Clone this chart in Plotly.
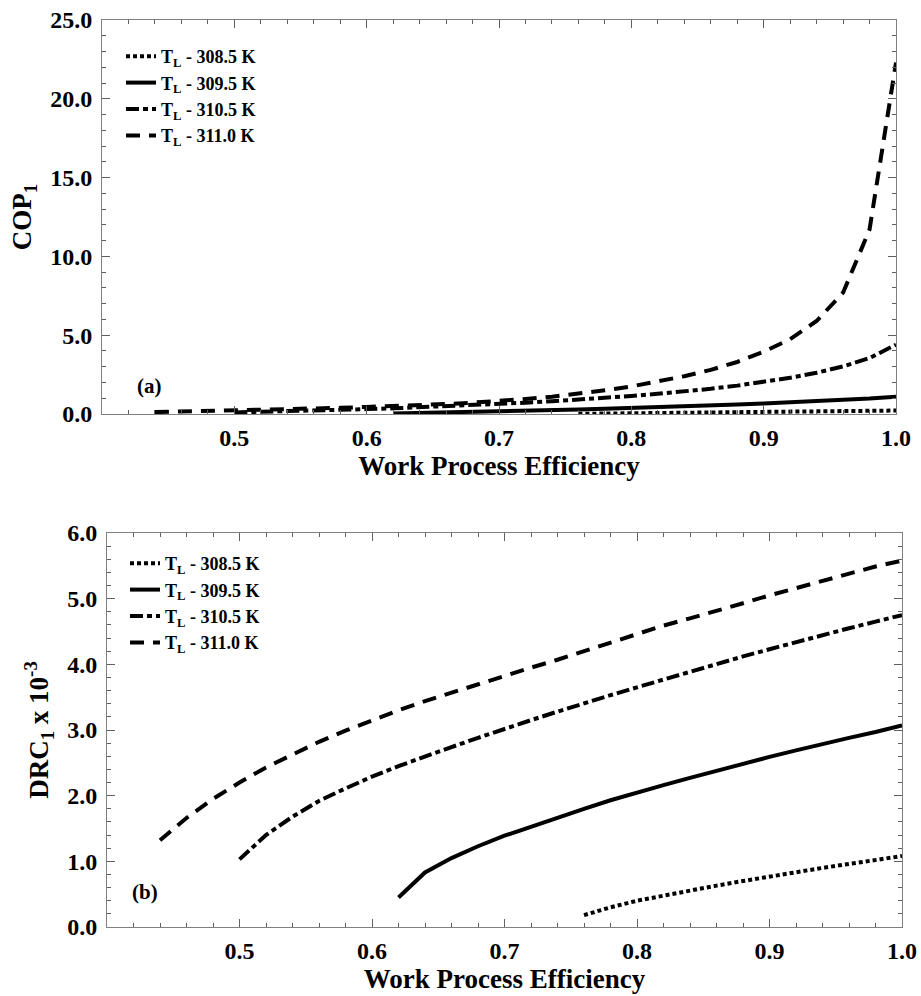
import plotly.graph_objects as go

# ---------------- data ----------------
eta_311 = [0.44, 0.46, 0.48, 0.50, 0.52, 0.54, 0.56, 0.58, 0.60, 0.62, 0.64, 0.66, 0.68, 0.70,
           0.72, 0.74, 0.76, 0.78, 0.80, 0.82, 0.84, 0.86, 0.88, 0.90, 0.92, 0.94, 0.96, 0.98, 1.00]
eta_3105 = eta_311[3:]
eta_3095 = eta_311[9:]
eta_3085 = eta_311[16:]

cop_311 = [0.12, 0.15, 0.18, 0.22, 0.26, 0.30, 0.34, 0.39, 0.45, 0.50, 0.56, 0.63, 0.72, 0.82,
           0.95, 1.10, 1.28, 1.50, 1.75, 2.05, 2.40, 2.80, 3.30, 3.95, 4.75, 5.90, 7.70, 11.7, 22.3]
cop_3105 = [0.10, 0.13, 0.17, 0.21, 0.26, 0.31, 0.36, 0.42, 0.49, 0.56, 0.63, 0.72, 0.81, 0.91,
            1.02, 1.14, 1.28, 1.43, 1.60, 1.80, 2.03, 2.30, 2.62, 3.02, 3.55, 4.40]
cop_3095 = [0.03, 0.06, 0.09, 0.13, 0.17, 0.21, 0.25, 0.29, 0.34, 0.38, 0.43, 0.48, 0.54, 0.60,
            0.66, 0.73, 0.80, 0.88, 0.98, 1.10]
cop_3085 = [0.01, 0.025, 0.04, 0.055, 0.07, 0.085, 0.10, 0.12, 0.135, 0.155, 0.175, 0.195, 0.22]

drc_311 = [1.32, 1.66, 1.95, 2.20, 2.43, 2.63, 2.82, 2.99, 3.15, 3.30, 3.44, 3.57, 3.70, 3.82,
           3.95, 4.07, 4.20, 4.33, 4.46, 4.59, 4.70, 4.81, 4.93, 5.05, 5.16, 5.28, 5.38, 5.49, 5.58]
drc_3105 = [1.03, 1.40, 1.68, 1.92, 2.11, 2.29, 2.45, 2.60, 2.74, 2.88, 3.02, 3.15, 3.28, 3.41,
            3.53, 3.65, 3.77, 3.89, 4.01, 4.12, 4.23, 4.34, 4.45, 4.55, 4.65, 4.75]
drc_3095 = [0.45, 0.83, 1.05, 1.23, 1.39, 1.53, 1.67, 1.80, 1.93, 2.05, 2.16, 2.27, 2.38, 2.49,
            2.59, 2.69, 2.79, 2.88, 2.97, 3.07]
drc_3085 = [0.18, 0.30, 0.40, 0.48, 0.56, 0.63, 0.70, 0.77, 0.84, 0.90, 0.96, 1.02, 1.08]

labels = ["T<sub>L</sub> - 308.5 K", "T<sub>L</sub> - 309.5 K",
          "T<sub>L</sub> - 310.5 K", "T<sub>L</sub> - 311.0 K"]
x_ticks = [0.5, 0.6, 0.7, 0.8, 0.9, 1.0]
x_ticktext = ["0.5", "0.6", "0.7", "0.8", "0.9", "1.0"]

# ---------------- styles ----------------
FONT = "Liberation Serif"
dashes = ["4px,3px", "solid", "13px,4px,5px,4px", "14px,9px"]
LW = 4

fig = go.Figure()

xs = [eta_3085, eta_3095, eta_3105, eta_311]
tops = [cop_3085, cop_3095, cop_3105, cop_311]
bots = [drc_3085, drc_3095, drc_3105, drc_311]

for i in range(4):
    fig.add_trace(go.Scatter(x=xs[i], y=tops[i], mode="lines", name=labels[i],
                             line=dict(color="black", width=LW, dash=dashes[i]),
                             xaxis="x", yaxis="y", legend="legend"))
for i in range(4):
    fig.add_trace(go.Scatter(x=xs[i], y=bots[i], mode="lines", name=labels[i],
                             line=dict(color="black", width=LW, dash=dashes[i]),
                             xaxis="x2", yaxis="y2", legend="legend2"))

W, H = 921, 996
tickfont = dict(family=FONT, size=24, color="black", weight="bold")
titlefont = dict(family=FONT, size=27, color="black", weight="bold")
legfont = dict(family=FONT, size=18, color="black", weight="bold")

common_axis = dict(showline=True, linecolor="#808080", linewidth=1, mirror="allticks",
                   ticks="inside", ticklen=8, tickcolor="#606060", tickwidth=1,
                   showgrid=False, zeroline=False, tickfont=tickfont, automargin=False)

def xaxis(domain, anchor):
    return dict(common_axis, domain=domain, anchor=anchor, range=[0.4, 1.0],
                tickmode="array", tickvals=x_ticks, ticktext=x_ticktext,
                minor=dict(tick0=0.4, dtick=0.02, ticks="inside", ticklen=4,
                           tickcolor="#606060", tickwidth=1),
                ticklabelstandoff=2,
                title=dict(text="Work Process Efficiency", font=titlefont, standoff=6))

def yaxis(domain, anchor, rng, dtick, mdtick, title):
    return dict(common_axis, domain=domain, anchor=anchor, range=rng,
                tick0=0, dtick=dtick, tickformat=".1f",
                minor=dict(tick0=0, dtick=mdtick, ticks="inside", ticklen=4,
                           tickcolor="#606060", tickwidth=1),
                ticklabelstandoff=4,
                title=dict(text=title, font=titlefont, standoff=10))

fig.update_layout(
    width=W, height=H,
    margin=dict(l=0, r=0, t=0, b=0),
    paper_bgcolor="white", plot_bgcolor="white",
    xaxis=xaxis([102 / W, 896 / W], "y"),
    yaxis=yaxis([1 - 414 / H, 1 - 20 / H], "x", [0, 25], 5, 1, "COP<sub>1</sub>"),
    xaxis2=xaxis([107 / W, 902 / W], "y2"),
    yaxis2=yaxis([1 - 927 / H, 1 - 533 / H], "x2", [0, 6], 1, 0.2,
                 "DRC<sub>1</sub> x 10<sup>-3</sup>"),
    legend=dict(x=121 / W, y=1 - 38 / H, xanchor="left", yanchor="top",
                bgcolor="rgba(0,0,0,0)", font=legfont, tracegroupgap=0, itemwidth=30),
    legend2=dict(x=125 / W, y=1 - 545 / H, xanchor="left", yanchor="top",
                 bgcolor="rgba(0,0,0,0)", font=legfont, tracegroupgap=0, itemwidth=30),
    annotations=[
        dict(text="(a)", x=135 / W, y=1 - 386 / H, xref="paper", yref="paper",
             showarrow=False, font=dict(family=FONT, size=21, color="black", weight="bold")),
        dict(text="(b)", x=130 / W, y=1 - 906 / H, xref="paper", yref="paper",
             showarrow=False, font=dict(family=FONT, size=21, color="black", weight="bold")),
    ],
)

fig.write_html("out.html", post_script="document.body.style.margin='0';",
               config={"displayModeBar": False})
